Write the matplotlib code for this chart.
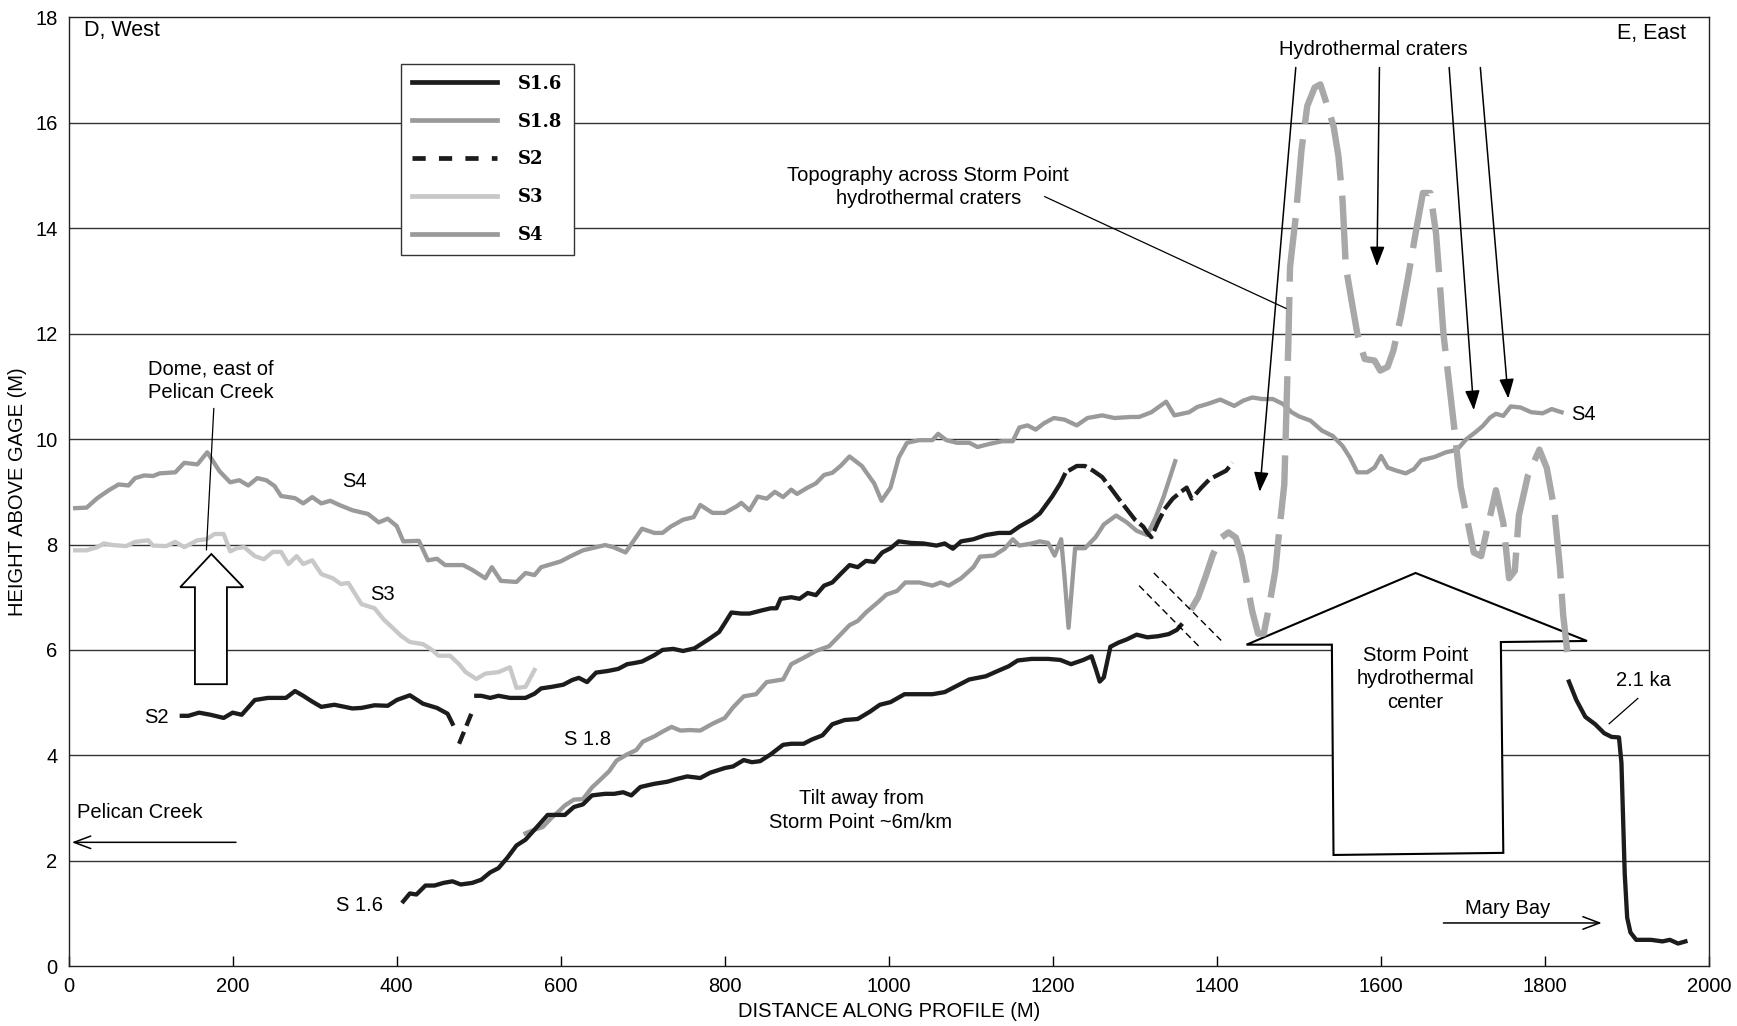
import matplotlib
matplotlib.use("Agg")
import matplotlib.pyplot as plt
from matplotlib.patches import Polygon
from matplotlib.lines import Line2D

plt.rcParams['font.family'] = ['Liberation Sans', 'DejaVu Sans']

# profile data (distance m, height m)
s4_x = [8, 22, 35, 49, 61, 73, 81, 92, 103, 111, 130, 141, 157, 169, 184, 197, 208, 219, 230, 241,
        251, 259, 276, 286, 297, 308, 319, 330, 346, 365, 378, 389, 400, 408, 427, 438, 449, 459, 481, 492,
        508, 516, 527, 546, 557, 568, 576, 589, 600, 611, 627, 643, 654, 664, 679, 699, 714, 724, 734, 749,
        762, 770, 785, 800, 815, 820, 830, 840, 851, 861, 871, 881, 888, 901, 911, 921, 931, 941, 952, 967,
        982, 991, 1002, 1012, 1022, 1037, 1053, 1060, 1070, 1083, 1098, 1108, 1123, 1138, 1151, 1159, 1169, 1179, 1189, 1201,
        1214, 1229, 1242, 1260, 1275, 1295, 1305, 1320, 1338, 1348, 1366, 1376, 1389, 1404, 1421, 1432, 1443, 1455, 1468, 1480,
        1491, 1500, 1514, 1528, 1541, 1553, 1562, 1571, 1583, 1592, 1600, 1608, 1619, 1630, 1640, 1649, 1665, 1679, 1688, 1695,
        1704, 1715, 1724, 1733, 1740, 1749, 1758, 1770, 1783, 1797, 1808, 1820]
s4_y = [8.69, 8.70, 8.88, 9.03, 9.14, 9.12, 9.26, 9.31, 9.30, 9.35, 9.37, 9.55, 9.52, 9.75, 9.39, 9.18, 9.22, 9.12, 9.26, 9.22,
        9.11, 8.92, 8.88, 8.78, 8.90, 8.78, 8.83, 8.75, 8.65, 8.58, 8.42, 8.49, 8.35, 8.06, 8.07, 7.70, 7.73, 7.61, 7.61, 7.52,
        7.36, 7.57, 7.31, 7.29, 7.46, 7.42, 7.57, 7.63, 7.68, 7.77, 7.89, 7.95, 7.99, 7.95, 7.85, 8.30, 8.22, 8.22, 8.34, 8.47,
        8.52, 8.75, 8.60, 8.60, 8.73, 8.79, 8.65, 8.91, 8.87, 9.00, 8.90, 9.04, 8.96, 9.08, 9.16, 9.32, 9.36, 9.49, 9.67, 9.49,
        9.16, 8.83, 9.08, 9.65, 9.93, 9.98, 9.98, 10.10, 9.98, 9.93, 9.93, 9.85, 9.91, 9.96, 9.96, 10.22, 10.26, 10.18, 10.30, 10.40,
        10.37, 10.26, 10.40, 10.45, 10.40, 10.42, 10.42, 10.51, 10.71, 10.45, 10.51, 10.61, 10.67, 10.75, 10.63, 10.73, 10.79, 10.76, 10.76, 10.67,
        10.51, 10.43, 10.35, 10.16, 10.06, 9.87, 9.65, 9.37, 9.37, 9.46, 9.68, 9.46, 9.40, 9.35, 9.43, 9.60, 9.66, 9.75, 9.78, 9.84,
        10.00, 10.13, 10.25, 10.41, 10.48, 10.44, 10.62, 10.60, 10.51, 10.49, 10.57, 10.51]

s3_x = [8, 22, 35, 43, 54, 70, 81, 97, 103, 119, 130, 141, 157, 168, 178, 189, 197, 205, 214, 227,
        238, 249, 259, 268, 278, 286, 297, 308, 322, 332, 341, 351, 357, 373, 384, 395, 405, 416, 432, 443,
        451, 465, 476, 484, 497, 508, 524, 538, 546, 557, 568]
s3_y = [7.89, 7.89, 7.95, 8.02, 7.99, 7.97, 8.05, 8.08, 7.98, 7.97, 8.05, 7.95, 8.08, 8.10, 8.20, 8.20, 7.87, 7.93, 7.95, 7.78,
        7.72, 7.86, 7.86, 7.63, 7.78, 7.63, 7.70, 7.44, 7.36, 7.25, 7.27, 7.02, 6.87, 6.79, 6.58, 6.42, 6.27, 6.15, 6.11, 6.00,
        5.89, 5.89, 5.73, 5.58, 5.45, 5.55, 5.58, 5.67, 5.28, 5.30, 5.62]

# S2: west part, inferred gap, main part, dashed eastern part
s2a_x = [138, 146, 159, 173, 189, 200, 211, 227, 243, 265, 276, 286, 297, 308, 324, 346, 357, 373, 389, 400,
         416, 432, 449, 462, 468]
s2a_y = [4.75, 4.75, 4.81, 4.77, 4.71, 4.81, 4.77, 5.05, 5.09, 5.09, 5.22, 5.13, 5.02, 4.92, 4.96, 4.89, 4.90, 4.95, 4.94, 5.05,
         5.14, 4.98, 4.90, 4.79, 4.60]
s2b_x = [476, 492]
s2b_y = [4.22, 4.83]
s2c_x = [497, 503, 514, 524, 538, 546, 557, 568, 576, 589, 603, 614, 622, 632, 643, 657, 670, 681, 689, 699,
         714, 724, 737, 749, 763, 780, 793, 800, 808, 820, 830, 845, 856, 863, 868, 881, 891, 901, 911, 921,
         931, 941, 952, 962, 972, 982, 992, 1002, 1012, 1027, 1042, 1058, 1068, 1078, 1088, 1103, 1118, 1134, 1148, 1159,
         1174, 1184, 1199, 1209, 1214]
s2c_y = [5.13, 5.13, 5.09, 5.13, 5.09, 5.09, 5.09, 5.17, 5.27, 5.30, 5.34, 5.43, 5.47, 5.39, 5.57, 5.60, 5.64, 5.73, 5.75, 5.78,
         5.90, 6.00, 6.02, 5.98, 6.03, 6.20, 6.34, 6.51, 6.71, 6.69, 6.69, 6.75, 6.79, 6.79, 6.97, 7.00, 6.97, 7.08, 7.04, 7.22,
         7.28, 7.44, 7.61, 7.57, 7.69, 7.67, 7.85, 7.93, 8.06, 8.03, 8.02, 7.98, 8.02, 7.92, 8.06, 8.10, 8.18, 8.22, 8.22, 8.34,
         8.47, 8.59, 8.91, 9.16, 9.32]
s2d_x = [1219, 1229, 1239, 1249, 1260, 1270, 1280, 1290, 1300, 1310, 1315, 1320, 1328, 1336, 1346, 1356, 1363, 1369, 1381, 1391,
         1401, 1411, 1419]
s2d_y = [9.40, 9.49, 9.49, 9.40, 9.28, 9.08, 8.87, 8.67, 8.47, 8.34, 8.22, 8.14, 8.42, 8.67, 8.87, 9.00, 9.08, 8.87, 9.08, 9.24,
         9.32, 9.40, 9.55]

s18_x = [557, 568, 578, 589, 597, 605, 616, 627, 638, 649, 659, 668, 681, 692, 700, 714, 724, 735, 746, 757,
         770, 785, 800, 810, 823, 838, 851, 871, 881, 896, 911, 927, 939, 952, 962, 972, 987, 997, 1010, 1020,
         1037, 1053, 1063, 1073, 1088, 1103, 1111, 1128, 1141, 1151, 1159, 1174, 1184, 1194, 1202, 1210, 1214, 1219, 1227, 1239,
         1252, 1262, 1277, 1290, 1302, 1315, 1325, 1335, 1349]
s18_y = [2.52, 2.59, 2.64, 2.82, 2.93, 3.05, 3.16, 3.17, 3.39, 3.55, 3.70, 3.90, 4.02, 4.10, 4.26, 4.36, 4.45, 4.54, 4.47, 4.48,
         4.47, 4.60, 4.71, 4.91, 5.12, 5.16, 5.39, 5.44, 5.73, 5.85, 5.98, 6.07, 6.26, 6.47, 6.55, 6.71, 6.91, 7.05, 7.12, 7.28,
         7.28, 7.22, 7.28, 7.22, 7.36, 7.57, 7.77, 7.79, 7.92, 8.10, 7.98, 8.02, 8.06, 8.03, 7.79, 8.10, 7.40, 6.42, 7.93, 7.93,
         8.14, 8.38, 8.55, 8.42, 8.26, 8.18, 8.51, 8.91, 9.58]

s16_x = [408, 416, 424, 435, 446, 457, 468, 478, 492, 503, 514, 524, 535, 546, 557, 568, 584, 595, 605, 616,
         627, 638, 654, 665, 676, 686, 697, 714, 730, 741, 754, 770, 782, 800, 810, 823, 833, 843, 856, 871,
         881, 896, 906, 919, 931, 946, 962, 977, 989, 1002, 1019, 1037, 1053, 1068, 1083, 1098, 1118, 1134, 1146, 1157,
         1174, 1194, 1209, 1222, 1237, 1247, 1252, 1257, 1262, 1270, 1280, 1290, 1302, 1315, 1328, 1341, 1351, 1356]
s16_y = [1.23, 1.38, 1.36, 1.53, 1.53, 1.58, 1.61, 1.55, 1.58, 1.64, 1.78, 1.86, 2.06, 2.29, 2.40, 2.59, 2.87, 2.87, 2.87, 3.02,
         3.07, 3.24, 3.27, 3.27, 3.30, 3.24, 3.40, 3.46, 3.50, 3.55, 3.60, 3.57, 3.67, 3.76, 3.79, 3.91, 3.87, 3.89, 4.02, 4.20,
         4.22, 4.22, 4.30, 4.38, 4.59, 4.67, 4.69, 4.83, 4.96, 5.01, 5.16, 5.16, 5.16, 5.20, 5.32, 5.44, 5.50, 5.61, 5.69, 5.80,
         5.83, 5.83, 5.81, 5.73, 5.81, 5.88, 5.65, 5.40, 5.48, 6.06, 6.14, 6.20, 6.29, 6.24, 6.26, 6.30, 6.38, 6.47]

# 2.1 ka segment down to Mary Bay
ka_x = [1829, 1838, 1849, 1861, 1872, 1881, 1890, 1893, 1895, 1897, 1900, 1904, 1911, 1929, 1943, 1952, 1962, 1971]
ka_y = [5.40, 5.05, 4.73, 4.59, 4.42, 4.35, 4.34, 3.86, 2.81, 1.76, 0.92, 0.64, 0.50, 0.50, 0.47, 0.50, 0.43, 0.47]

# topography across Storm Point craters
topo_x = [1368, 1377, 1386, 1395, 1405, 1414, 1423, 1430, 1437, 1443, 1450, 1457, 1464, 1471, 1475, 1482, 1484, 1487, 1489, 1496,
          1503, 1510, 1519, 1526, 1532, 1542, 1548, 1553, 1557, 1564, 1571, 1580, 1592, 1599, 1608, 1615, 1624, 1633, 1642, 1651,
          1660, 1667, 1671, 1676, 1683, 1690, 1694, 1697, 1704, 1713, 1722, 1731, 1740, 1749, 1756, 1763, 1768, 1779, 1793, 1802,
          1811, 1818, 1822, 1827]
topo_y = [6.76, 7.00, 7.39, 7.81, 8.13, 8.23, 8.13, 7.78, 7.22, 6.73, 6.31, 6.31, 6.87, 7.50, 8.13, 9.14, 10.22, 11.87, 13.27, 14.22,
          15.49, 16.32, 16.67, 16.73, 16.44, 15.94, 15.37, 14.54, 13.27, 12.63, 12.00, 11.52, 11.49, 11.30, 11.37, 11.68, 12.32, 13.08, 13.90, 14.67,
          14.67, 13.90, 13.08, 12.00, 11.05, 10.10, 9.52, 9.10, 8.55, 7.85, 7.78, 8.41, 9.03, 8.41, 7.36, 7.50, 8.55, 9.31, 9.80, 9.45,
          8.69, 7.57, 6.66, 5.96]

x_ticks = list(range(0, 2001, 200))
y_ticks = list(range(0, 19, 2))
legend_labels = ['S1.6', 'S1.8', 'S2', 'S3', 'S4']

fig = plt.figure(figsize=(17.37, 10.26), dpi=100)
ax = fig.add_axes([0.0395, 0.0583, 0.9445, 0.9247])
ax.set_xlim(0, 2000)
ax.set_ylim(0, 18)
ax.set_xticks(x_ticks)
ax.set_yticks(y_ticks)
ax.tick_params(axis='x', direction='in', length=7, width=1, labelsize=14.5, pad=8)
ax.tick_params(axis='y', length=0, labelsize=14.5, pad=8)
for s in ax.spines.values():
    s.set_linewidth(1.0)
    s.set_color('#222222')
for yv in y_ticks[1:-1]:
    ax.axhline(yv, color='#333333', lw=1.0, zorder=1)
ax.set_xlabel('DISTANCE ALONG PROFILE (M)', fontsize=14.5, labelpad=4)
ax.set_ylabel('HEIGHT ABOVE GAGE (M)', fontsize=14.5, labelpad=6)

blk = '#1c1c1c'
gry = '#9a9a9a'
lgt = '#c8c8c8'
lw = 3.1

ax.plot(s4_x, s4_y, color=gry, lw=lw, zorder=3)
ax.plot(s3_x, s3_y, color=lgt, lw=lw, zorder=3)
ax.plot(s18_x, s18_y, color=gry, lw=lw, zorder=3)
ax.plot(s16_x, s16_y, color=blk, lw=lw, zorder=4)
ax.plot(s2a_x, s2a_y, color=blk, lw=lw, zorder=4)
ax.plot(s2b_x, s2b_y, color=blk, lw=lw, zorder=4, dashes=(3, 1.5))
ax.plot(s2c_x, s2c_y, color=blk, lw=lw, zorder=4)
ax.plot(s2d_x, s2d_y, color=blk, lw=lw, zorder=4, dashes=(4.5, 1.2))
ax.plot(ka_x, ka_y, color=blk, lw=lw, zorder=4)
ax.plot(topo_x, topo_y, color='#a8a8a8', lw=4.6, zorder=5, dashes=(10, 2.4))

# break symbol
ax.plot([1323, 1405], [7.46, 6.18], color='black', lw=1, ls=(0, (5, 3)), zorder=6)
ax.plot([1305, 1381], [7.22, 6.02], color='black', lw=1, ls=(0, (5, 3)), zorder=6)

# hollow arrows
dome_arrow = Polygon([(154, 5.35), (193, 5.35), (193, 7.19), (213, 7.19), (174, 7.82),
                      (136, 7.19), (154, 7.19)], closed=True, facecolor='white',
                     edgecolor='black', lw=1.3, zorder=2)
ax.add_patch(dome_arrow)
center_arrow = Polygon([(1542, 2.11), (1749, 2.15), (1746, 6.15), (1851, 6.17), (1642, 7.46),
                        (1436, 6.10), (1540, 6.10)], closed=True, facecolor='white',
                       edgecolor='black', lw=1.5, zorder=2)
ax.add_patch(center_arrow)

# legend
handles = [Line2D([], [], color=blk, lw=3.4),
           Line2D([], [], color=gry, lw=3.4),
           Line2D([], [], color=blk, lw=3.4, dashes=(2.8, 2.8)),
           Line2D([], [], color=lgt, lw=3.4),
           Line2D([], [], color=gry, lw=3.4)]
leg = ax.legend(handles, legend_labels, loc='upper left',
                bbox_to_anchor=(0.2026, 0.951), borderaxespad=0, handlelength=4.7, handletextpad=1.2,
                labelspacing=1.1, borderpad=0.6, fancybox=False, framealpha=1,
                edgecolor='#333333', prop={'family': 'DejaVu Serif', 'weight': 'bold', 'size': 13})
leg.get_frame().set_linewidth(1.0)
leg.set_zorder(7)

fs = 14.5
ax.text(19, 17.75, 'D, West', fontsize=15.5, va='center', ha='left')
ax.text(1972, 17.7, 'E, East', fontsize=15.5, va='center', ha='right')
ax.text(1591, 17.4, 'Hydrothermal craters', fontsize=fs, ha='center', va='center')
for (x0, y0, x1, y1) in [(1496, 17.05, 1452, 9.0), (1598, 17.05, 1595, 13.28),
                         (1683, 17.05, 1713, 10.55), (1721, 17.05, 1755, 10.77)]:
    ax.annotate('', xy=(x1, y1), xytext=(x0, y0),
                arrowprops=dict(arrowstyle='-|>,head_length=1.2,head_width=0.45',
                                color='black', lw=1.1, shrinkA=0, shrinkB=0), zorder=8)

ax.text(1048, 14.78, 'Topography across Storm Point\nhydrothermal craters', fontsize=fs,
        ha='center', va='center', linespacing=1.3)
ax.plot([1190, 1484], [14.6, 12.48], color='black', lw=0.9, zorder=6)

ax.text(173, 11.1, 'Dome, east of\nPelican Creek', fontsize=fs, ha='center', va='center', linespacing=1.3)
ax.plot([177, 168], [10.58, 7.9], color='black', lw=0.9, zorder=6)

ax.text(349, 9.2, 'S4', fontsize=fs, ha='center', va='center')
ax.text(383, 7.05, 'S3', fontsize=fs, ha='center', va='center')
ax.text(107, 4.72, 'S2', fontsize=fs, ha='center', va='center')
ax.text(632, 4.31, 'S 1.8', fontsize=fs, ha='center', va='center')
ax.text(355, 1.15, 'S 1.6', fontsize=fs, ha='center', va='center')
ax.text(1847, 10.47, 'S4', fontsize=fs, ha='center', va='center')

ax.text(1920, 5.42, '2.1 ka', fontsize=fs, ha='center', va='center')
ax.plot([1913, 1878], [5.08, 4.6], color='black', lw=0.9)

ax.text(87, 2.92, 'Pelican Creek', fontsize=fs, ha='center', va='center')
ax.annotate('', xy=(4, 2.35), xytext=(204, 2.35),
            arrowprops=dict(arrowstyle='->,head_length=1.2,head_width=0.45', color='black', lw=1.1,
                            shrinkA=0, shrinkB=0))
ax.text(1754, 1.09, 'Mary Bay', fontsize=fs, ha='center', va='center')
ax.annotate('', xy=(1869, 0.82), xytext=(1676, 0.82),
            arrowprops=dict(arrowstyle='->,head_length=1.2,head_width=0.45', color='black', lw=1.1,
                            shrinkA=0, shrinkB=0))

ax.text(966, 2.95, 'Tilt away from\nStorm Point ~6m/km', fontsize=fs, ha='center', va='center', linespacing=1.3)
ax.text(1642, 5.45, 'Storm Point\nhydrothermal\ncenter', fontsize=fs, ha='center', va='center',
        linespacing=1.3, zorder=8)

fig.savefig('out.png', dpi=100)
